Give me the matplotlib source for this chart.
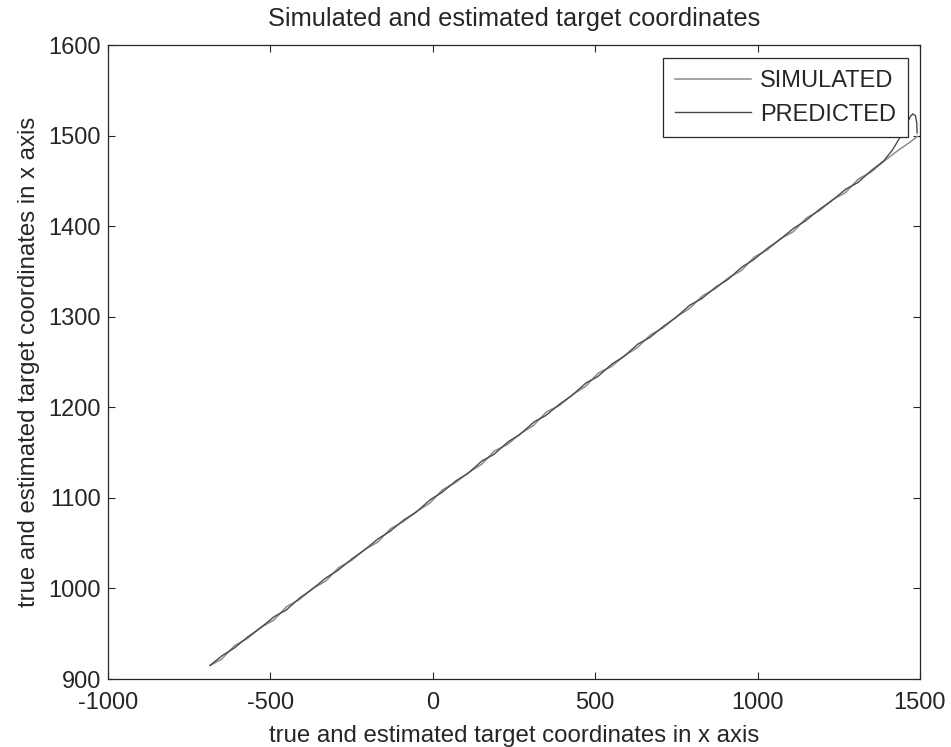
import matplotlib
matplotlib.use("Agg")
import matplotlib.pyplot as plt

plt.rcParams['font.family'] = ['Liberation Sans', 'DejaVu Sans']
plt.rcParams['axes.unicode_minus'] = False

title = "Simulated and estimated target coordinates"
xlabel = "true and estimated target coordinates in x axis"
ylabel = "true and estimated target coordinates in x axis"
series_names = ["SIMULATED", "PREDICTED"]
xticks = [-1000, -500, 0, 500, 1000, 1500]
yticks = [900, 1000, 1100, 1200, 1300, 1400, 1500, 1600]

sim_x = [-686, -650, -610, -570, -530, -490, -450, -410, -370, -330, -290, -250, -210,
         -170, -130, -90, -50, -10, 30, 70, 110, 150, 190, 230, 270, 310, 350, 390, 430,
         470, 510, 550, 590, 630, 670, 710, 750, 790, 830, 870, 910, 950, 990, 1030, 1070,
         1110, 1150, 1190, 1230, 1270, 1310, 1350, 1390, 1430, 1470, 1491]
sim_y = [915, 922, 937, 945, 957, 965, 980, 988, 1000, 1008, 1023, 1031, 1043, 1051, 1066,
         1074, 1085, 1094, 1109, 1117, 1128, 1137, 1152, 1159, 1171, 1180, 1195, 1202, 1214,
         1223, 1238, 1245, 1257, 1266, 1280, 1288, 1300, 1309, 1323, 1331, 1343, 1351, 1366,
         1374, 1386, 1394, 1409, 1417, 1429, 1437, 1452, 1460, 1472, 1483, 1493, 1499]

pred_x = [-686, -648, -612, -568, -532, -488, -452, -408, -372, -328, -292, -248, -212,
          -168, -132, -88, -52, -8, 28, 72, 108, 152, 188, 232, 268, 312, 348, 392, 428,
          472, 508, 552, 588, 632, 668, 712, 748, 792, 828, 872, 908, 952, 988, 1032, 1068,
          1112, 1148, 1192, 1228, 1272, 1308, 1352, 1388, 1415, 1440, 1462, 1470, 1478,
          1486, 1490, 1491]
pred_y = [915, 926, 934, 947, 956, 969, 976, 990, 999, 1012, 1020, 1033, 1042, 1055, 1063,
          1076, 1084, 1098, 1106, 1119, 1127, 1141, 1148, 1162, 1170, 1184, 1191, 1204, 1213,
          1227, 1234, 1248, 1256, 1270, 1277, 1290, 1299, 1313, 1320, 1333, 1341, 1355, 1363,
          1376, 1385, 1398, 1406, 1419, 1428, 1441, 1448, 1462, 1472, 1484, 1499, 1515, 1521,
          1524, 1522, 1514, 1503]

fig = plt.figure(figsize=(9.51, 7.47), dpi=100)
ax = fig.add_axes([0.1136, 0.0910, 0.8538, 0.8487])

ax.plot(sim_x, sim_y, color='#8c8c8c', lw=1.1, label=series_names[0])
ax.plot(pred_x, pred_y, color='#4a4a4a', lw=1.0, label=series_names[1])

ax.set_xlim(-1000, 1500)
ax.set_ylim(900, 1600)
ax.set_xticks(xticks)
ax.set_yticks(yticks)
ax.tick_params(direction='in', top=True, right=True, length=5, width=0.8,
               labelsize=17, colors='#262626')
ax.tick_params(axis='x', pad=9)
ax.tick_params(axis='y', pad=5)
for s in ax.spines.values():
    s.set_color('#262626')
    s.set_linewidth(0.9)

ax.set_title(title, fontsize=18.25, color='#262626', pad=14)
ax.set_xlabel(xlabel, fontsize=17.25, color='#262626', labelpad=8)
ax.set_ylabel(ylabel, fontsize=17.25, color='#262626', labelpad=6)

leg = ax.legend(loc='upper right', bbox_to_anchor=(0.985, 0.9795), borderaxespad=0,
                fontsize=17, fancybox=False, framealpha=1, edgecolor='#262626',
                handlelength=3.2, handletextpad=0.4, borderpad=0.5, labelspacing=0.5)
leg.get_frame().set_linewidth(0.9)
for t in leg.get_texts():
    t.set_color('#262626')

fig.savefig('out.png', dpi=100)
